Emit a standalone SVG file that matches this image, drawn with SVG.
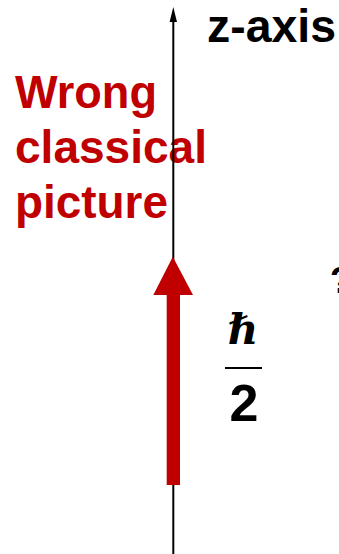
<svg xmlns="http://www.w3.org/2000/svg" width="339" height="554" viewBox="0 0 339 554">
<style>
.red{fill:#C00000;font-family:"Liberation Sans",Arial,sans-serif;font-weight:bold;font-size:46px}
.blk{fill:#000;font-family:"Liberation Sans",Arial,sans-serif;font-weight:bold}
</style>
<rect width="339" height="554" fill="#fff"/>
<g id="label-wrong">
<text class="red" x="15" y="108" textLength="142" lengthAdjust="spacingAndGlyphs">Wrong</text>
<text class="red" x="15" y="163" textLength="192" lengthAdjust="spacingAndGlyphs">classical</text>
<text class="red" x="15" y="218" textLength="153" lengthAdjust="spacingAndGlyphs">picture</text>
</g>
<g id="z-axis">
<line x1="173.3" y1="20" x2="173.3" y2="554" stroke="#000" stroke-width="2"/>
<polygon points="173.3,7 177,22 169.6,22" fill="#000"/>
<text class="blk" x="207" y="42" font-size="46" textLength="129" lengthAdjust="spacingAndGlyphs">z-axis</text>
</g>
<g id="spin-arrow">
<rect x="166.7" y="293" width="13.3" height="192" fill="#C00000"/>
<polygon points="172.8,256.7 193,295 153.3,295" fill="#C00000"/>
</g>
<g id="hbar-over-2">
<text x="243" y="344" text-anchor="middle" font-family="'DejaVu Serif',serif" font-style="italic" font-weight="bold" font-size="42" fill="#000">ℏ</text>
<line x1="225" y1="368" x2="262" y2="368" stroke="#000" stroke-width="2"/>
<text class="blk" x="244" y="421" text-anchor="middle" font-size="52">2</text>
</g>
<g id="partial-mark">
<text class="blk" x="330" y="293" font-size="36">?</text>
</g>
</svg>
